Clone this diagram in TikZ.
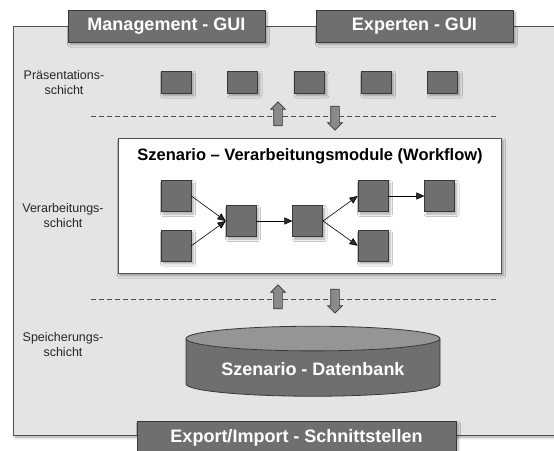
\documentclass[tikz,border=0pt]{standalone}
\usepackage{fontspec}
\setmainfont{Liberation Sans}
\usetikzlibrary{arrows.meta, shapes.geometric, shapes.arrows, positioning, shadows.blur}

\definecolor{backgray}{HTML}{E4E4E4}
\definecolor{framegray}{HTML}{505050}
\definecolor{boxgray}{HTML}{6F6F6F}
\definecolor{edgegray}{HTML}{383838}
\definecolor{topgray}{HTML}{959595}
\definecolor{arrgray}{HTML}{8A8A8A}

\begin{document}
\begin{tikzpicture}[
    x=1pt, y=-1pt,
    node distance=18pt and 36pt,
    softshadow/.style={blur shadow={shadow blur steps=6, shadow xshift=2pt, shadow yshift=-2.5pt, shadow blur radius=2.5pt, shadow opacity=35}},
    guibox/.style={rectangle, draw=edgegray, fill=boxgray, line width=0.8pt, minimum width=197pt, minimum height=32pt, text=white, font=\fontsize{18}{20}\selectfont\bfseries, softshadow},
    layer/.style={align=center, text=black!85, font=\fontsize{12.5}{15}\selectfont},
    modsq/.style={rectangle, draw=edgegray, fill=boxgray, line width=0.7pt, minimum width=30pt, minimum height=31pt, inner sep=0pt, softshadow},
    presq/.style={modsq, minimum height=22pt},
    blockarr/.style={single arrow, draw=edgegray, fill=arrgray, line width=0.7pt, minimum height=24pt, minimum width=14pt, single arrow head extend=3pt, inner xsep=0pt, inner ysep=4pt},
    dashline/.style={draw=framegray, line width=0.8pt, dash pattern=on 5pt off 3pt},
    arrow/.style={-{Triangle[length=8pt, width=7pt]}, line width=0.6pt},
]

\useasboundingbox (0,0) rectangle (554,450);
\clip (0,0) rectangle (554,450);

% outer frame
\draw[draw=framegray, fill=backgray, line width=0.8pt, softshadow] (13,26) rectangle (580,435);

% interfaces
\node[guibox] (mgui) at (166.5,26) {Management - GUI};
\node[guibox] (egui) at (414.5,26) {Experten - GUI};
\node[guibox, minimum width=319pt, minimum height=34pt] (io) at (296.5,438) {Export/Import - Schnittstellen};

% layer names
\node[layer] (lpres) at (64,83)  {Präsentations-\\schicht};
\node[layer] (lproc) at (63,216) {Verarbeitungs-\\schicht};
\node[layer] (lstor) at (63,345) {Speicherungs-\\schicht};

% presentation layer
\node[presq] (p1) at (176,82) {};
\node[presq, right=of p1] (p2) {};
\node[presq, right=of p2] (p3) {};
\node[presq, right=of p3] (p4) {};
\node[presq, right=of p4] (p5) {};

% first separation
\coordinate (d1a) at (91,116);
\coordinate (d1b) at (498,116);
\draw[dashline] (d1a) -- (d1b);
\node[blockarr, rotate=90]  (up1) at (278,116) {};
\node[blockarr, rotate=-90] (dn1) at (335,116) {};

% processing layer
\node[rectangle, draw=framegray, fill=white, line width=0.8pt, minimum width=383pt, minimum height=135pt, softshadow] (wf) at (309.5,205.5) {};
\node[font=\fontsize{16.5}{19}\selectfont\bfseries] (wftitle) at (310,156) {Szenario -- Verarbeitungsmodule (Workflow)};

\node[modsq] (ma) at (176,196) {};
\node[modsq, below=of ma] (mb) {};
\node[modsq] (mc) at (241,221) {};
\node[modsq, right=of mc] (md) {};
\node[modsq] (me) at (373,196) {};
\node[modsq, right=of me] (mf) {};
\node[modsq, below=of me] (mg) {};

\draw[arrow] (ma.east) -- (mc.west);
\draw[arrow] (mb.east) -- (mc.west);
\draw[arrow] (mc) -- (md);
\draw[arrow] (md.east) -- (me.west);
\draw[arrow] (md.east) -- (mg.west);
\draw[arrow] (me) -- (mf);

% second separation
\coordinate (d2a) at (91,299);
\coordinate (d2b) at (498,299);
\draw[dashline] (d2a) -- (d2b);
\node[blockarr, rotate=90]  (up2) at (278,299) {};
\node[blockarr, rotate=-90] (dn2) at (335,299) {};

% storage layer
\node[cylinder, shape border rotate=90, draw=edgegray, line width=0.8pt, aspect=0.13,
      cylinder uses custom fill, cylinder body fill=boxgray, cylinder end fill=topgray,
      minimum width=254pt, minimum height=70pt, text=white,
      font=\fontsize{18}{20}\selectfont\bfseries] (db) at (313,369) {Szenario - Datenbank};

\end{tikzpicture}
\end{document}
